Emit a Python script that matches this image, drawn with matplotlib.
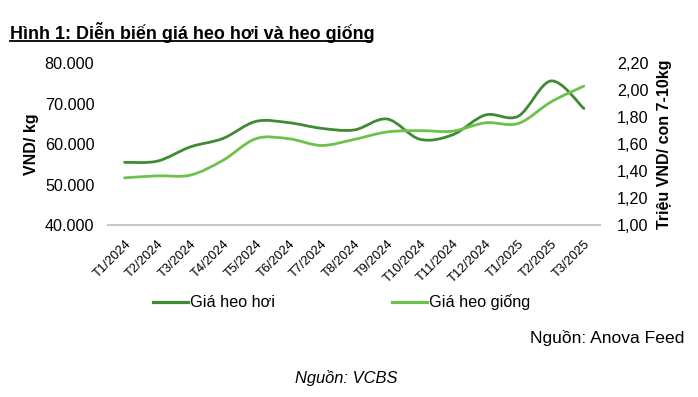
import matplotlib
matplotlib.use('Agg')
import numpy as np
import matplotlib.pyplot as plt
from matplotlib.path import Path
from matplotlib.patches import PathPatch
from matplotlib.lines import Line2D
from matplotlib.ticker import FuncFormatter

plt.rcParams['font.family'] = ['Liberation Sans', 'DejaVu Sans']

months = ['T1/2024', 'T2/2024', 'T3/2024', 'T4/2024', 'T5/2024', 'T6/2024',
          'T7/2024', 'T8/2024', 'T9/2024', 'T10/2024', 'T11/2024', 'T12/2024',
          'T1/2025', 'T2/2025', 'T3/2025']
heo_hoi = [55500, 55800, 59300, 61400, 65600, 65300, 63900, 63500, 66200,
           61200, 62300, 67200, 66900, 75600, 68800]
heo_giong = [1.35, 1.365, 1.37, 1.48, 1.64, 1.64, 1.59, 1.635, 1.69,
             1.70, 1.696, 1.758, 1.753, 1.913, 2.03]
series_names = ['Giá heo hơi', 'Giá heo giống']

DARK = '#3f8a33'
LIGHT = '#6cc24a'


def smooth_path(x, y, t=0.5):
    # excel-like smoothed line: catmull-rom segments as cubic beziers
    x = np.asarray(x, float)
    y = np.asarray(y, float)
    n = len(x)
    verts = [(x[0], y[0])]
    codes = [Path.MOVETO]
    for i in range(n - 1):
        i0 = max(i - 1, 0)
        i3 = min(i + 2, n - 1)
        c1 = (x[i] + (x[i + 1] - x[i0]) * t / 3, y[i] + (y[i + 1] - y[i0]) * t / 3)
        c2 = (x[i + 1] - (x[i3] - x[i]) * t / 3, y[i + 1] - (y[i3] - y[i]) * t / 3)
        verts += [c1, c2, (x[i + 1], y[i + 1])]
        codes += [Path.CURVE4] * 3
    return Path(verts, codes)


fig = plt.figure(figsize=(6.98, 3.97), dpi=100)
ax = fig.add_axes([0.155, 0.433, 0.705, 0.408])
ax2 = ax.twinx()

xs = np.arange(len(months))
ax.add_patch(PathPatch(smooth_path(xs, heo_hoi), fill=False, edgecolor=DARK,
                       lw=2.0, capstyle='round', zorder=3))
ax2.add_patch(PathPatch(smooth_path(xs, heo_giong), fill=False, edgecolor=LIGHT,
                        lw=2.0, capstyle='round', zorder=2))

ax.set_xlim(-0.5, len(months) - 0.5)
ax.set_ylim(40000, 80000)
ax.set_yticks(np.arange(40000, 80001, 10000))
ax.yaxis.set_major_formatter(FuncFormatter(lambda v, p: f'{int(v):,}'.replace(',', '.')))
ax2.set_ylim(1.0, 2.2)
ax2.set_yticks(np.arange(1.0, 2.21, 0.2))
ax2.yaxis.set_major_formatter(FuncFormatter(lambda v, p: f'{v:.2f}'.replace('.', ',')))

ax.set_xticks(xs)
ax.set_xticklabels(months, rotation=45, ha='right', rotation_mode='anchor')

for a in (ax, ax2):
    for s in a.spines.values():
        s.set_visible(False)
    a.tick_params(length=0, labelsize=11.6)
ax.tick_params(axis='x', labelsize=9.3, pad=9)
ax.spines['bottom'].set_visible(True)
ax.spines['bottom'].set_color('#c8c8c8')
ax.spines['bottom'].set_linewidth(1.5)
ax.tick_params(axis='y', pad=10)
ax2.tick_params(axis='y', pad=12)

ax.set_ylabel('VND/ kg', fontsize=11.5, fontweight='bold', labelpad=4)
ax2.set_ylabel('Triệu VND/ con 7-10kg', fontsize=11.5, fontweight='bold', labelpad=6)

fig.text(0.0143, 0.917, 'Hình 1: Diễn biến giá heo hơi và heo giống',
         fontsize=12.9, fontweight='bold', va='center')
fig.add_artist(Line2D([0.0143, 0.531], [0.897, 0.897], color='black', lw=1.3))

# legend drawn by hand so the spacing matches
leg_y = 0.239
for x0, x1, col, name in [(153, 188, DARK, series_names[0]),
                          (392, 427, LIGHT, series_names[1])]:
    fig.add_artist(Line2D([x0 / 698, x1 / 698], [leg_y, leg_y], color=col, lw=2.3))
    fig.text((x1 + 2) / 698, leg_y, name, fontsize=11.7, va='center')

fig.text(0.981, 0.149, 'Nguồn: Anova Feed', fontsize=12.6, ha='right', va='center')
fig.text(0.496, 0.048, 'Nguồn: VCBS', fontsize=11.9, style='italic', ha='center', va='center')

fig.savefig('out.png', dpi=100)
